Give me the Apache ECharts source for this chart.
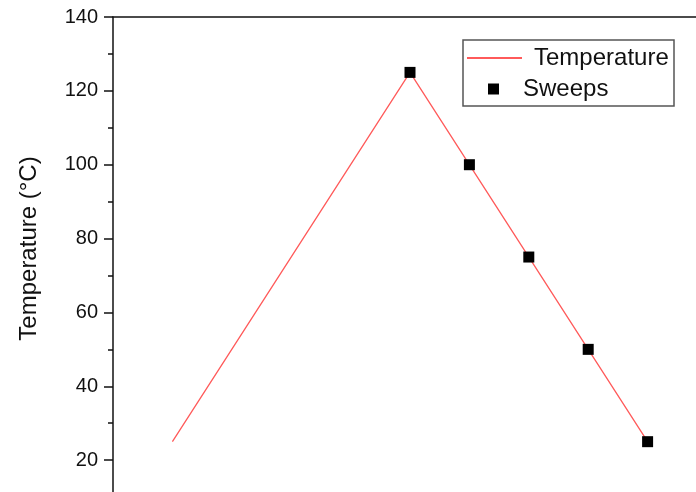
<!DOCTYPE html>
<html>
<head>
<meta charset="utf-8">
<script src="https://cdn.jsdelivr.net/npm/echarts@6/dist/echarts.min.js"></script>
<style>html,body{margin:0;padding:0;background:#fff}#c{width:696px;height:492px}</style>
</head>
<body>
<div id="c"></div>
<script>
var tempX = [0, 4, 8];
var tempY = [25, 125, 25];
var sweepX = [4, 5, 6, 7, 8];
var sweepY = [125, 100, 75, 50, 25];
var yTicks = [0, 20, 40, 60, 80, 100, 120, 140];

var chart = echarts.init(document.getElementById('c'));
var font = 'Liberation Sans, Arial, sans-serif';
chart.setOption({
  animation: false,
  backgroundColor: '#fff',
  grid: { left: 113, top: 17, right: -11, bottom: -42, containLabel: false, outerBoundsMode: 'none' },
  xAxis: [
    { type: 'value', min: -1, max: 9, position: 'bottom',
      axisLine: { show: true, onZero: false, lineStyle: { color: '#111', width: 1.5 } },
      axisTick: { show: false }, axisLabel: { show: false }, splitLine: { show: false } },
    { type: 'value', min: -1, max: 9, position: 'top',
      axisLine: { show: true, onZero: false, lineStyle: { color: '#111', width: 1.5 } },
      axisTick: { show: false }, axisLabel: { show: false }, splitLine: { show: false } }
  ],
  yAxis: {
    type: 'value', min: yTicks[0], max: yTicks[yTicks.length - 1], interval: 20,
    name: 'Temperature (°C)', nameLocation: 'middle', nameGap: 72,
    nameTextStyle: { fontSize: 24, color: '#111', fontFamily: font, padding: [0, 0, 0, 54] },
    axisLine: { show: true, onZero: false, lineStyle: { color: '#111', width: 1.5 } },
    axisTick: { show: true, inside: false, length: 9, lineStyle: { color: '#111', width: 1.5 } },
    minorTick: { show: true, splitNumber: 2, length: 5, lineStyle: { color: '#111', width: 1.5 } },
    axisLabel: { fontSize: 20, color: '#111', fontFamily: font, margin: 15 },
    splitLine: { show: false }
  },
  legend: [
    { data: ['Temperature'], left: 466, top: 44, padding: 0, orient: 'vertical',
      itemWidth: 55, itemHeight: 1.5,
      textStyle: { fontSize: 24, color: '#111', fontFamily: font, lineHeight: 28, padding: [0, 0, 0, 7] } },
    { data: ['Sweeps'], left: 488, top: 75, padding: 0, orient: 'vertical',
      itemWidth: 11, itemHeight: 11,
      textStyle: { fontSize: 24, color: '#111', fontFamily: font, lineHeight: 28, padding: [0, 0, 0, 19] } }
  ],
  graphic: [
    { type: 'rect', z: -1, shape: { x: 463, y: 40, width: 211, height: 66 },
      style: { fill: '#fff', stroke: '#555', lineWidth: 1.5 } }
  ],
  series: [
    { name: 'Temperature', type: 'line', symbol: 'none', showSymbol: false, legendIcon: 'rect',
      data: tempX.map(function (x, i) { return [x, tempY[i]]; }),
      lineStyle: { color: '#ff5a5a', width: 1.3 }, itemStyle: { color: '#ff5a5a' }, z: 2 },
    { name: 'Sweeps', type: 'scatter', symbol: 'rect', symbolSize: 11,
      data: sweepX.map(function (x, i) { return [x, sweepY[i]]; }),
      itemStyle: { color: '#000', opacity: 1 }, z: 3 }
  ]
});
</script>
</body>
</html>
